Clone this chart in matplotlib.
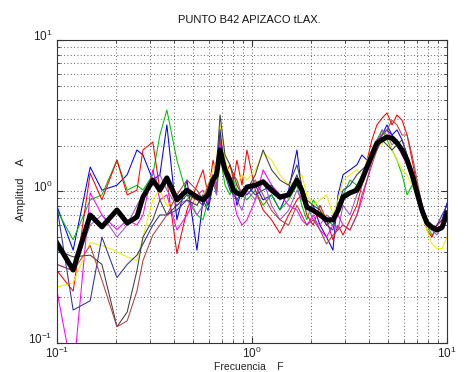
import matplotlib
matplotlib.use("Agg")
import matplotlib.pyplot as plt
import matplotlib.transforms as mtransforms
from matplotlib.ticker import LogLocator, NullFormatter, FixedLocator, FixedFormatter

plt.rcParams['font.family'] = ['Liberation Sans', 'DejaVu Sans']
plt.rcParams['mathtext.default'] = 'regular'

freq = [0.100, 0.121, 0.148, 0.170, 0.203, 0.229, 0.257, 0.276, 0.310, 0.337,
        0.366, 0.412, 0.464, 0.522, 0.561, 0.595, 0.631, 0.658, 0.686, 0.727,
        0.771, 0.804, 0.837, 0.888, 0.942, 1.04, 1.14, 1.26, 1.39, 1.54,
        1.70, 1.80, 1.91, 2.06, 2.23, 2.41, 2.60, 2.76, 2.93, 3.18,
        3.45, 3.66, 3.89, 4.12, 4.37, 4.64, 4.92, 5.22, 5.54, 5.88,
        6.24, 6.62, 7.02, 7.44, 7.89, 8.37, 8.89, 9.43, 10.0]

amp_blue = [0.80, 0.41, 1.45, 1.02, 1.10, 1.29, 1.88, 1.74, 1.19, 1.29,
            2.75, 0.65, 1.19, 0.41, 0.88, 0.75, 1.10, 1.45, 2.36, 1.50,
            1.19, 1.10, 0.81, 1.02, 0.95, 1.10, 0.88, 0.95, 0.755, 1.02,
            1.88, 1.02, 0.755, 0.81, 0.60, 0.50, 0.41, 0.95, 1.29, 1.39,
            1.50, 1.74, 1.61, 1.88, 2.19, 2.36, 2.75, 2.36, 2.55, 2.19,
            1.74, 1.39, 1.02, 0.81, 0.65, 0.557, 0.60, 0.65, 0.84]
amp_green = [0.75, 0.48, 0.88, 0.95, 1.61, 1.02, 1.10, 1.02, 1.29, 2.36,
             3.45, 1.61, 0.95, 0.70, 0.65, 0.88, 1.19, 0.95, 1.74, 1.10,
             0.95, 1.19, 1.02, 0.95, 0.88, 1.02, 0.81, 0.95, 0.755, 0.88,
             1.10, 0.81, 0.65, 0.88, 0.755, 0.65, 0.60, 0.81, 0.95, 1.19,
             1.10, 1.29, 1.50, 1.74, 2.19, 2.55, 2.19, 1.88, 1.61, 1.29,
             0.95, 1.10, 0.95, 0.81, 0.60, 0.516, 0.557, 0.60, 0.70]
amp_red = [0.30, 0.22, 1.32, 0.88, 1.61, 0.95, 1.02, 1.88, 2.12, 1.02,
           1.19, 0.39, 0.755, 1.10, 1.39, 0.95, 1.61, 1.29, 2.19, 1.29,
           1.50, 1.19, 1.61, 1.10, 1.88, 1.02, 0.755, 0.65, 0.53, 0.70,
           0.88, 0.95, 0.70, 0.60, 0.81, 0.65, 0.479, 0.60, 0.516, 0.65,
           0.81, 1.10, 1.61, 2.19, 2.75, 3.05, 3.30, 2.75, 3.20, 2.95,
           2.36, 1.61, 1.10, 0.81, 0.557, 0.50, 0.60, 0.65, 0.70]
amp_magenta = [0.22, 0.06, 0.98, 0.70, 0.56, 0.65, 0.60, 0.70, 1.39, 0.88,
               0.95, 0.557, 0.70, 0.95, 1.02, 0.81, 1.29, 1.10, 2.03, 1.50,
               1.29, 0.88, 0.70, 0.60, 0.65, 0.88, 1.39, 1.10, 0.95, 0.81,
               0.755, 0.65, 0.60, 0.70, 0.557, 0.50, 0.60, 0.70, 0.60, 0.557,
               0.70, 0.88, 1.19, 1.61, 2.19, 2.36, 2.55, 2.19, 2.03, 1.74,
               1.50, 1.19, 0.95, 0.70, 0.60, 0.60, 0.557, 0.60, 0.65]
amp_purple = [0.33, 0.30, 0.60, 0.70, 0.50, 0.60, 0.81, 0.95, 1.10, 1.29,
              1.02, 0.81, 0.88, 0.70, 0.81, 1.02, 1.19, 0.95, 2.36, 1.39,
              1.10, 1.02, 0.88, 0.75, 1.02, 0.88, 1.19, 0.81, 0.65, 0.75,
              1.02, 0.88, 0.81, 0.65, 0.60, 0.70, 0.65, 0.557, 0.81, 0.70,
              0.95, 1.10, 1.39, 1.74, 2.03, 2.55, 2.36, 2.03, 2.19, 1.88,
              1.50, 1.29, 1.02, 0.75, 0.60, 0.557, 0.516, 0.60, 0.70]
amp_yellow = [0.234, 0.25, 0.46, 0.44, 0.40, 0.37, 0.35, 0.50, 0.88, 1.02,
              0.81, 0.88, 1.02, 0.81, 0.95, 1.10, 1.39, 1.61, 2.75, 1.61,
              1.29, 1.02, 1.10, 1.29, 1.19, 1.39, 1.80, 1.61, 1.29, 1.10,
              1.19, 1.29, 0.95, 0.81, 0.88, 0.95, 0.70, 0.88, 1.19, 1.29,
              1.39, 1.29, 1.61, 1.88, 2.19, 2.03, 2.36, 1.88, 1.61, 1.39,
              1.29, 1.10, 0.95, 0.70, 0.557, 0.45, 0.42, 0.42, 0.50]
amp_kthin = [0.41, 0.37, 0.38, 0.33, 0.128, 0.16, 0.30, 0.50, 0.65, 0.88,
             0.70, 0.81, 0.95, 0.88, 0.81, 0.95, 1.19, 1.50, 3.20, 1.74,
             1.50, 1.29, 1.10, 0.95, 1.02, 1.29, 1.88, 1.39, 1.19, 1.10,
             1.50, 1.10, 0.88, 0.81, 0.755, 0.60, 0.65, 0.75, 0.88, 0.95,
             1.10, 1.19, 1.39, 1.61, 1.88, 2.19, 2.03, 1.88, 2.03, 2.19,
             1.74, 1.29, 1.02, 0.81, 0.65, 0.60, 0.557, 0.557, 0.65]
amp_navy = [0.79, 0.165, 0.19, 0.50, 0.27, 0.33, 0.38, 0.45, 0.60, 0.70,
            0.70, 0.755, 0.88, 0.81, 0.95, 0.81, 1.10, 1.39, 2.55, 1.29,
            1.02, 0.95, 0.88, 1.02, 1.10, 0.95, 1.02, 1.10, 0.88, 0.95,
            1.29, 0.95, 0.81, 0.75, 0.70, 0.60, 0.557, 0.81, 1.02, 1.10,
            1.29, 1.39, 1.50, 1.74, 2.03, 2.36, 2.55, 2.36, 2.19, 1.88,
            1.61, 1.19, 0.95, 0.70, 0.60, 0.557, 0.60, 0.70, 0.81]
amp_brown = [0.33, 0.30, 0.44, 0.26, 0.128, 0.14, 0.22, 0.35, 0.516, 0.60,
             0.70, 0.95, 1.19, 1.02, 0.88, 1.10, 1.29, 1.02, 1.88, 1.39,
             1.10, 1.29, 1.19, 0.95, 1.02, 1.19, 0.95, 0.75, 0.65, 0.60,
             0.81, 0.70, 0.60, 0.65, 0.557, 0.45, 0.516, 0.557, 0.60, 0.557,
             0.70, 0.95, 1.19, 1.50, 1.88, 2.36, 2.55, 2.95, 2.75, 2.36,
             2.36, 1.74, 1.19, 0.81, 0.60, 0.60, 0.557, 0.60, 0.65]
amp_mean = [0.457, 0.303, 0.70, 0.584, 0.755, 0.619, 0.679, 0.92, 1.19, 1.02,
            1.23, 0.88, 1.02, 0.92, 0.88, 0.95, 1.19, 1.29, 1.88, 1.39,
            1.19, 1.02, 0.977, 0.95, 1.07, 1.10, 1.16, 1.02, 0.92, 0.95,
            1.19, 1.02, 0.79, 0.75, 0.70, 0.65, 0.649, 0.75, 0.92, 0.98,
            1.02, 1.19, 1.45, 1.74, 2.09, 2.19, 2.29, 2.25, 2.09, 1.88,
            1.61, 1.29, 0.977, 0.75, 0.619, 0.58, 0.557, 0.58, 0.721]

thin_series = [
    (amp_blue, '#0000ff'),
    (amp_green, '#00c000'),
    (amp_red, '#ff0000'),
    (amp_magenta, '#ff00ff'),
    (amp_purple, '#a050d0'),
    (amp_yellow, '#f0f000'),
    (amp_kthin, '#404040'),
    (amp_navy, '#303090'),
    (amp_brown, '#b04040'),
]

title = "PUNTO B42 APIZACO tLAX."
xlabel = "Frecuencia    F"
ylabel = "Amplitud    A"

fig = plt.figure(figsize=(4.66, 3.72), dpi=100)
ax = fig.add_axes([0.1223, 0.078, 0.837, 0.8145])

for vals, col in thin_series:
    ax.plot(freq, vals, color=col, lw=0.75)
ax.plot(freq, amp_mean, color='black', lw=3.6, solid_joinstyle='round')

ax.set_xscale('log')
ax.set_yscale('log')
ax.set_xlim(0.1, 10)
ax.set_ylim(0.1, 10)

ax.xaxis.set_major_locator(FixedLocator([0.1, 1, 10]))
ax.xaxis.set_major_formatter(FixedFormatter(['$10^{-1}$', '$10^{0}$', '$10^{1}$']))
ax.yaxis.set_major_locator(FixedLocator([0.1, 1, 10]))
ax.yaxis.set_major_formatter(FixedFormatter(['$10^{-1}$', '$10^{0}$', '$10^{1}$']))
ax.xaxis.set_minor_locator(LogLocator(base=10, subs=range(2, 10)))
ax.yaxis.set_minor_locator(LogLocator(base=10, subs=range(2, 10)))
ax.xaxis.set_minor_formatter(NullFormatter())
ax.yaxis.set_minor_formatter(NullFormatter())

ax.grid(True, which='both', linestyle=(0, (1, 3)), color='#303030', lw=0.6)
ax.tick_params(which='both', direction='in', top=True, right=True,
               labelsize=8.5, colors='#333333', labelcolor='#222222')
ax.tick_params(axis='x', which='major', pad=2)
ax.tick_params(which='major', length=4)
ax.tick_params(which='minor', length=2.5)
for s in ax.spines.values():
    s.set_color('#333333')
    s.set_linewidth(0.8)

offset = mtransforms.ScaledTranslation(0, 4 / 72, fig.dpi_scale_trans)
for lab in ax.yaxis.get_majorticklabels():
    lab.set_transform(lab.get_transform() + offset)

fig.text(0.535, 0.946, title, ha='center', va='center', fontsize=8, color='#111111')
fig.text(0.535, 0.0, xlabel, ha='center', va='bottom', fontsize=7.5, color='#222222')
fig.text(0.045, 0.49, ylabel, ha='center', va='center', rotation=90, fontsize=8, color='#222222')

fig.savefig('out.png', dpi=100)
